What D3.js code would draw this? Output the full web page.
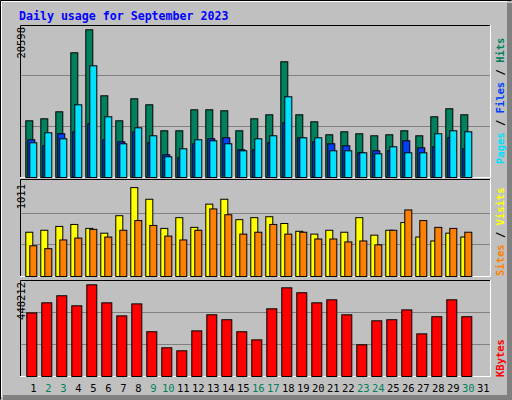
<!DOCTYPE html>
<html><head><meta charset="utf-8">
<script src="https://cdn.jsdelivr.net/npm/d3@7"></script>
<style>body{margin:0;background:#fff}svg{display:block}</style>
</head><body>
<script>
const days = d3.range(1, 32);
const weekend = [2,3,9,10,16,17,23,24,30];
const hits  = [7633,7903,8845,16788,19885,11000,7633,10595,9788,6287,6287,9114,9114,8980,6287,7903,8441,15577,8441,7499,5749,6153,5883,5614,5749,6287,5614,8172,9249,8441];
const files = [5076,4268,5883,6153,7230,5076,4806,6153,4672,3056,2652,4537,5210,5345,3729,3729,4672,7364,5345,4806,4537,4268,3325,3595,3595,4941,3999,4133,5345,3864];
const pages = [4672,6018,5210,9788,15038,8172,4537,6691,5614,2787,3864,5076,4941,4537,3595,5210,5614,10865,5345,5345,3595,3595,3325,3191,4133,3325,3325,5883,6287,6153];
const visits= [471,492,533,554,512,461,647,946,822,512,626,523,770,822,605,626,636,564,481,451,492,471,626,440,492,574,420,378,461,420];
const sites = [327,296,389,409,502,420,492,595,543,430,389,492,719,657,451,471,554,451,471,399,399,368,378,337,492,708,595,523,512,471];
const kbytes= [297000,344000,377000,330000,428000,344000,283000,339000,209000,134000,120000,213000,288000,265000,209000,171000,316000,414000,391000,344000,358000,288000,148000,260000,265000,311000,199000,279000,358000,279000];
const maxHits = 20598, maxVisits = 1011, maxKB = 448212;

const W = 512, H = 400;
const svg = d3.select("body").append("svg").attr("width", W).attr("height", H);
svg.append("rect").attr("width", W).attr("height", H).attr("fill", "#c0c0c0");
// outer 3d border
svg.append("path").attr("d", "M0.5,399.5V0.5H511.5").attr("stroke", "#000").attr("fill", "none");
svg.append("path").attr("d", "M1.5,397V1.5H507").attr("stroke", "#fff").attr("fill", "none");
svg.append("rect").attr("x", 507).attr("y", 3).attr("width", 5).attr("height", 397).attr("fill", "#808080");
svg.append("rect").attr("x", 3).attr("y", 395).attr("width", 509).attr("height", 5).attr("fill", "#808080");

svg.append("text").attr("x", 19).attr("y", 20).attr("font-family", "DejaVu Sans Mono").attr("font-weight", "bold")
  .attr("font-size", "11.6px").attr("fill", "#0000ff").text("Daily usage for September 2023");

const x = d3.scaleLinear().domain([1, 31]).range([25.3, 475.3]);
const L = 20, R = 491;

function panel(top, bottom) {
  svg.append("path").attr("d", `M${L+0.5},${bottom}V${top+0.5}H${R}`).attr("stroke", "#000").attr("fill", "none");
  svg.append("path").attr("d", `M${L},${bottom-0.5}H${R-0.5}V${top}`).attr("stroke", "#fff").attr("fill", "none");
}
function grid(y, vals) {
  vals.forEach(v => svg.append("line").attr("x1", L+1).attr("x2", R-1).attr("y1", Math.round(y(v))+0.5).attr("y2", Math.round(y(v))+0.5).attr("stroke", "#808080"));
}
function bars(data, y, off, w, color) {
  svg.append("g").selectAll("rect").data(data).join("rect")
    .attr("x", (d, i) => x(i + 1) + off + 0.5).attr("width", w)
    .attr("y", d => y(d) + 0.5).attr("height", d => y(0) - y(d))
    .attr("fill", color).attr("stroke", "#000").attr("stroke-width", 1);
}
function ylab(txt, yTop, xPos) {
  svg.append("text").attr("transform", `translate(${xPos},${yTop}) rotate(-90)`).attr("text-anchor", "end")
    .attr("font-family", "DejaVu Sans Mono").attr("font-size", "10.5px").attr("fill", "#000").text(txt);
}
function rlab(parts, yBottom) {
  const t = svg.append("text").attr("transform", `translate(504,${yBottom}) rotate(-90)`)
    .attr("font-family", "DejaVu Sans Mono").attr("font-weight", "bold").attr("font-size", "10.5px");
  parts.forEach(p => t.append("tspan").attr("fill", p[1]).text(p[0]));
}

// top panel
const yH = d3.scaleLinear().domain([0, maxHits]).range([177, 24]);
panel(25, 178);
grid(yH, [maxHits/3, maxHits*2/3]);
bars(hits, yH, 0, 7, "#00805c");
bars(files, yH, 2, 7, "#0040ff");
bars(pages, yH, 4, 7, "#00e0ff");
ylab("20598", 27, 25);
rlab([["Pages","#00e0ff"],[" / ","#000"],["Files","#0040ff"],[" / ","#000"],["Hits","#00805c"]], 164);

// middle
const yV = d3.scaleLinear().domain([0, maxVisits]).range([276, 181]);
panel(179, 277);
grid(yV, [maxVisits/3, maxVisits*2/3]);
bars(visits, yV, 0, 7, "#ffff00");
bars(sites, yV, 4, 7, "#ff8000");
ylab("1011", 184, 25);
rlab([["Sites","#ff8000"],[" / ","#000"],["Visits","#ffff00"]], 276);

// bottom
const yK = d3.scaleLinear().domain([0, maxKB]).range([376, 280]);
panel(280, 377);
grid(yK, [maxKB/3, maxKB*2/3]);
bars(kbytes, yK, 1, 10, "#ff0000");
ylab("448212", 282, 25);
rlab([["KBytes","#ff0000"]], 377);

// day labels
svg.append("g").selectAll("text").data(days).join("text")
  .attr("x", d => x(d) + 8).attr("y", 392).attr("text-anchor", "middle")
  .attr("font-family", "DejaVu Sans Mono").attr("font-size", "10.5px")
  .attr("fill", d => weekend.includes(d) ? "#00805c" : "#000").text(d => d);
</script>
</body></html>
